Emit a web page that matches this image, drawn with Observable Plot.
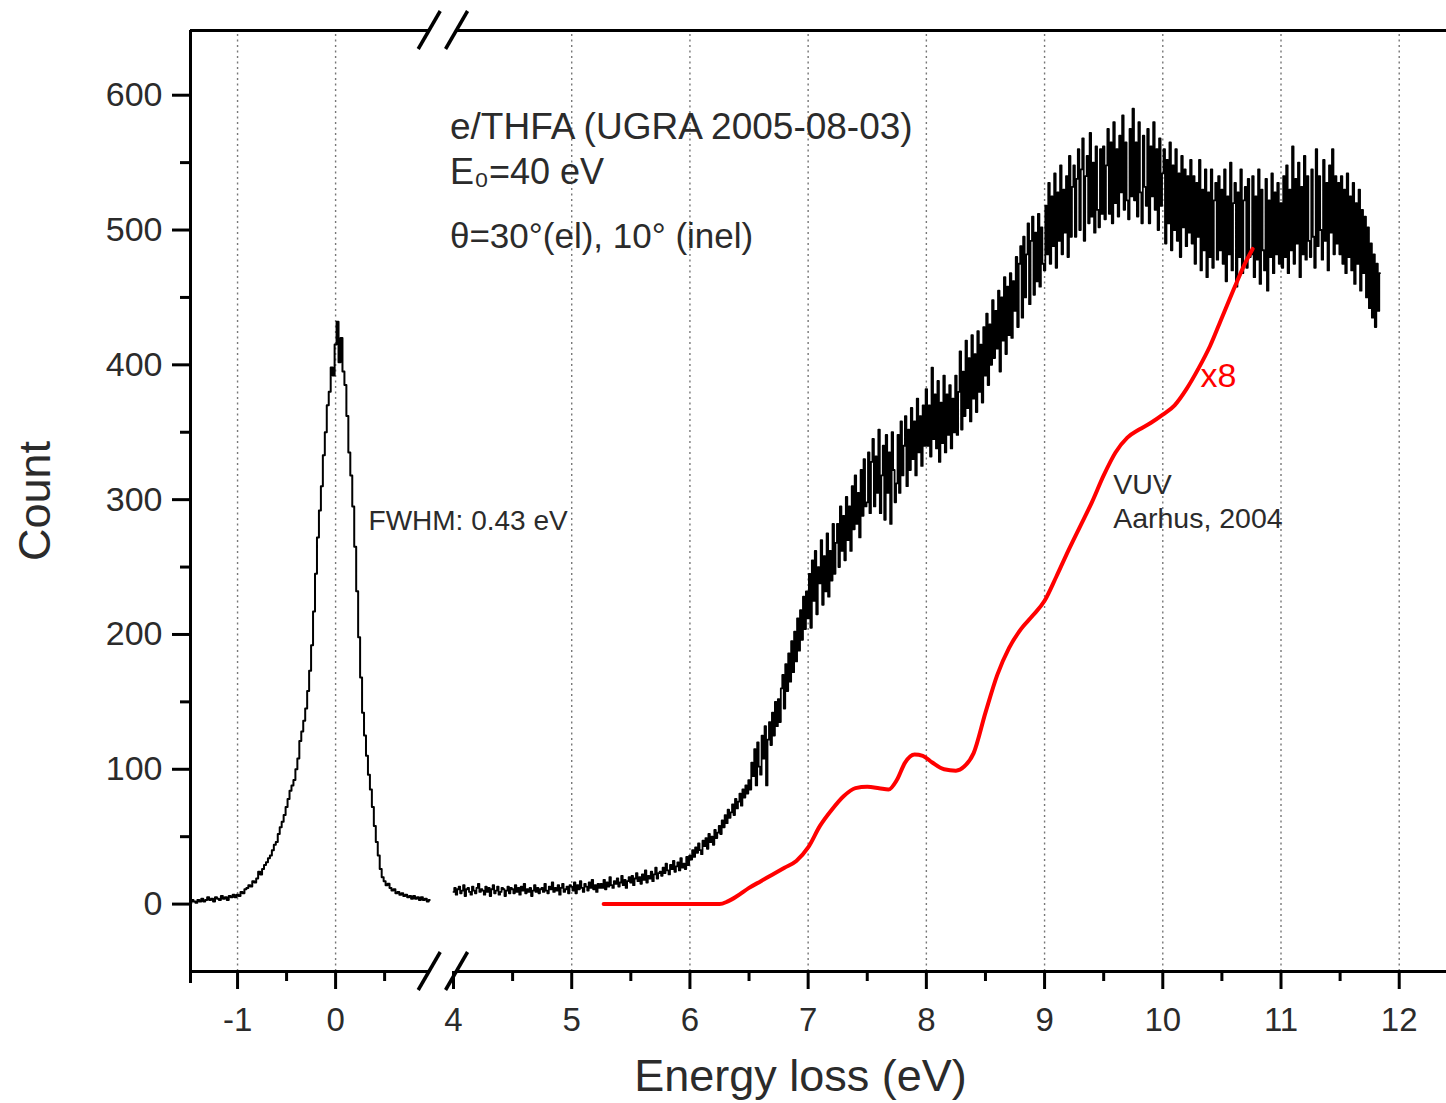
<!DOCTYPE html>
<html><head><meta charset="utf-8">
<script src="https://cdn.jsdelivr.net/npm/d3@7"></script>
<script src="https://cdn.jsdelivr.net/npm/@observablehq/plot@0.6"></script>
<style>
body{margin:0;background:#fff;}
#chart svg{display:block;}
</style>
</head><body><div id="chart"></div>
<script>
// ---- Elastic peak (channels start at -1.48 eV, step 0.02 eV) ----
const peakStart = -1.48, peakStep = 0.02;
const peakCounts = [
 1,3,2,1,3,2,4,2,3,5,
 3,4,2,5,4,3,6,4,5,3,
 6,5,7,5,7,6,9,8,11,12,
 14,13,17,16,19,24,22,26,29,31,
 34,36,40,44,46,52,57,61,66,72,
 78,84,88,92,100,108,121,128,136,145,
 158,173,192,217,245,272,292,310,333,350,
 370,380,398,392,415,432,402,420,395,385,
 362,335,318,295,265,232,198,168,142,125,
 110,96,85,72,58,46,36,26,20,17,
 14,15,12,10,11,8,9,7,8,6,
 7,5,6,4,6,4,5,3,5,3,
 4,2,3
];
// ---- Energy-loss spectrum (channels start at 4.000 eV, step 0.0125 eV) ----
const lossStart = 4.0, lossStep = 0.0125;
const lossCounts = [
 9,12,7,11,13,8,10,14,6,11,12,9,7,13,10,8,12,15,9,11,
 10,7,13,9,12,6,11,14,8,10,13,7,9,12,11,6,10,13,8,12,
 11,8,14,9,12,7,13,10,15,8,11,9,12,6,10,14,9,12,8,11,
 12,9,15,10,8,13,11,16,9,12,10,14,7,12,15,9,11,13,8,14,
 13,10,16,8,14,11,17,12,9,15,13,10,16,12,18,11,14,9,15,12,
 15,12,18,11,16,13,20,14,12,17,15,19,13,16,21,14,18,12,17,20,
 16,21,14,19,23,17,20,15,22,18,25,16,21,19,24,17,22,27,19,23,
 24,21,27,23,30,25,22,29,26,32,24,28,31,25,34,27,30,26,35,29,
 36,33,40,35,42,38,45,40,37,47,43,49,41,52,46,50,44,55,49,53,
 58,52,62,57,66,60,70,64,68,74,66,78,71,76,82,73,85,79,88,82,
 92,85,105,95,115,88,120,102,96,125,108,132,88,122,135,118,142,125,150,132,
 152,135,160,170,145,178,158,186,165,195,172,202,180,212,188,218,196,228,204,232,
 212,245,205,255,225,262,215,250,238,270,222,258,232,275,228,262,240,282,245,268,
 282,250,295,262,288,255,302,270,295,262,310,278,318,282,305,272,322,288,330,295,
 298,335,290,328,345,295,332,305,352,290,318,340,285,348,305,335,282,350,322,298,
 312,348,305,358,318,340,362,310,352,322,368,330,358,318,375,335,362,325,370,340,
 382,340,370,332,398,345,378,338,388,328,372,342,392,335,378,348,385,338,375,350,
 392,348,380,410,352,395,362,418,368,405,358,422,375,408,365,425,380,415,372,428,
 392,438,385,430,400,448,405,440,412,455,395,450,418,465,408,458,422,468,420,462,
 440,480,428,475,488,435,495,450,482,505,445,492,510,452,498,462,512,458,502,475,
 470,518,482,535,475,525,488,542,472,528,492,548,482,530,498,540,480,555,495,532,
 548,495,538,560,500,545,568,492,540,555,505,572,510,550,498,562,515,502,560,512,
 562,508,548,575,512,565,505,580,520,560,510,570,528,585,515,565,522,508,575,525,
 590,522,565,510,580,528,505,570,532,518,575,505,562,525,580,515,560,500,568,518,
 542,560,490,552,505,565,485,548,500,560,492,542,480,555,502,545,488,540,498,552,
 490,540,475,535,495,552,470,530,485,545,465,528,480,545,472,522,535,478,540,485,
 530,475,545,462,525,482,550,470,520,535,458,528,480,545,468,522,532,472,538,480,
 482,540,465,525,478,545,460,530,485,470,538,455,522,480,542,468,528,482,535,475,
 520,472,540,480,548,468,530,485,562,475,538,490,550,465,532,482,555,478,540,492,
 480,545,495,472,560,488,540,500,478,552,492,535,470,548,498,560,482,540,490,535,
 482,540,475,530,468,542,480,525,470,535,460,520,475,530,455,515,468,510,450,502,
 442,490,435,482,428,475,440,468
];
// ---- VUV photoabsorption (Aarhus 2004), scaled x8 ----
const vuvEnergy = [5.27,6.0,6.25,6.32,6.4,6.5,6.6,6.7,6.8,6.9,7.0,7.1,7.2,7.3,7.4,7.5,7.6,7.68,7.75,7.82,7.9,7.97,8.05,8.15,8.25,8.32,8.4,8.5,8.6,8.7,8.8,8.9,9.0,9.1,9.2,9.3,9.4,9.5,9.6,9.7,9.8,9.9,10.0,10.1,10.2,10.3,10.4,10.5,10.6,10.7,10.76];
const vuvScaled = [0,0,0,2,6,12,17,22,27,32,42,58,70,80,86,87,86,85,92,105,111,110,105,100,99,102,112,142,170,190,204,214,225,243,262,280,298,318,335,346,352,357,363,370,382,397,414,435,456,476,486];

// ---- axes ----
const xTicksMajor = [-1, 0, 4, 5, 6, 7, 8, 9, 10, 11, 12];
const xTicksMinor = [-0.5, 0.5, 4.5, 5.5, 6.5, 7.5, 8.5, 9.5, 10.5, 11.5];
const xGrid = [-1, 0, 5, 6, 7, 8, 9, 10, 11, 12];
const yTicksMajor = [0, 100, 200, 300, 400, 500, 600];
const yTicksMinor = [50, 150, 250, 350, 450, 550];
const xDomain = [-1.48, 1.07, 3.89, 12.4];   // broken axis
const yDomain = [-50, 648];
const breakLeftEnd = 0.96, breakRightStart = 4.03;

const peak = peakCounts.map((c, i) => ({E: peakStart + i * peakStep, c}));
const loss = lossCounts.map((c, i) => ({E: lossStart + i * lossStep, c}));
const vuv = vuvEnergy.map((E, i) => ({E, c: vuvScaled[i]}));

const W = 1446, H = 1103, mL = 190, mR = 0, mT = 30, mB = 132;
const font = "'Liberation Sans', Arial, Helvetica, sans-serif";
const ink = "#2b2b2b";

const breakMark = (index, scales) => {
  const {x, y} = scales;
  const g = d3.create("svg:g").attr("stroke", "black").attr("stroke-width", 3.5).attr("fill", "none");
  for (const yy of [y(yDomain[0]), y(yDomain[1])]) {
    for (const e of [breakLeftEnd, breakRightStart]) {
      const cx = x(e);
      g.append("line").attr("x1", cx - 11).attr("y1", yy + 19).attr("x2", cx + 11).attr("y2", yy - 19);
    }
  }
  return g.node();
};

const chart = Plot.plot({
  width: W, height: H,
  marginLeft: mL, marginRight: mR, marginTop: mT, marginBottom: mB,
  style: {fontFamily: font, fontSize: "33px", background: "#fff", color: ink},
  x: {type: "linear", domain: xDomain, range: [mL, 440, 440, W - mR]},
  y: {domain: yDomain},
  marks: [
    Plot.ruleX(xGrid, {y1: yDomain[0], y2: yDomain[1], stroke: "#777", strokeWidth: 1.4, strokeDasharray: "2,3.5"}),
    Plot.line(peak, {x: "E", y: "c", stroke: "black", strokeWidth: 2, curve: "step"}),
    Plot.line(loss, {x: "E", y: "c", stroke: "black", strokeWidth: 1.8, curve: "step"}),
    Plot.line(vuv, {x: "E", y: "c", stroke: "#ff0000", strokeWidth: 4, curve: "monotone-x"}),
    // frame
    Plot.ruleY([yDomain[0]], {x1: xDomain[0], x2: breakLeftEnd, stroke: "black", strokeWidth: 3}),
    Plot.ruleY([yDomain[0]], {x1: breakRightStart, x2: xDomain[3], stroke: "black", strokeWidth: 3}),
    Plot.ruleY([yDomain[1]], {x1: xDomain[0], x2: breakLeftEnd, stroke: "black", strokeWidth: 3}),
    Plot.ruleY([yDomain[1]], {x1: breakRightStart, x2: xDomain[3], stroke: "black", strokeWidth: 3}),
    Plot.ruleX([xDomain[0]], {y1: yDomain[1], y2: yDomain[0], stroke: "black", strokeWidth: 3, insetBottom: -12}),
    breakMark,
    // axes
    Plot.axisX(xTicksMajor, {tickSize: 18, tickPadding: 18, stroke: "black", strokeWidth: 3, fill: ink, fontSize: 33, label: null, tickFormat: d => String(d)}),
    Plot.axisX(xTicksMinor, {tickSize: 10, stroke: "black", strokeWidth: 3, tickFormat: () => "", label: null}),
    Plot.axisY(yTicksMajor, {tickSize: 18, tickPadding: 10, stroke: "black", strokeWidth: 3, fill: ink, fontSize: 34, label: null}),
    Plot.axisY(yTicksMinor, {tickSize: 10, stroke: "black", strokeWidth: 3, tickFormat: () => "", label: null}),
    // axis titles
    Plot.text(["Energy loss (eV)"], {text: d => d, frameAnchor: "bottom", dx: -18, dy: 119, fontSize: 45, fill: ink}),
    Plot.text(["Count"], {text: d => d, frameAnchor: "left", textAnchor: "middle", rotate: -90, dx: -155, fontSize: 45, fill: ink}),
    // annotations
    Plot.text(["e/THFA (UGRA 2005-08-03)"], {text: d => d, x: 3.97, y: 576, textAnchor: "start", fontSize: 37, fill: ink}),
    Plot.text(["E\u2080=40 eV"], {text: d => d, x: 3.97, y: 543, textAnchor: "start", fontSize: 36, fill: ink}),
    Plot.text(["\u03b8=30\u00b0(el), 10\u00b0 (inel)"], {text: d => d, x: 3.97, y: 495, textAnchor: "start", fontSize: 35, fill: ink}),
    Plot.text(["FWHM: 0.43 eV"], {text: d => d, x: 0.336, y: 284, textAnchor: "start", fontSize: 28, fill: ink}),
    Plot.text(["VUV"], {text: d => d, x: 9.58, y: 311, textAnchor: "start", fontSize: 28.5, fill: ink}),
    Plot.text(["Aarhus, 2004"], {text: d => d, x: 9.58, y: 286, textAnchor: "start", fontSize: 28.5, fill: ink}),
    Plot.text(["x8"], {text: d => d, x: 10.32, y: 392, textAnchor: "start", fontSize: 34, fill: "#ff0000"})
  ]
});
document.getElementById("chart").appendChild(chart);
</script>
</body></html>
